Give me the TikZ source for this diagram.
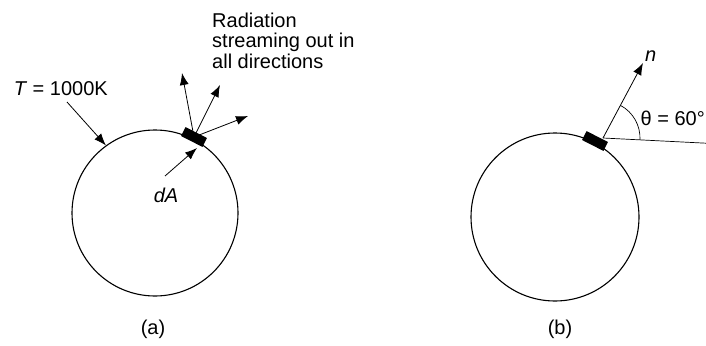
\documentclass[tikz,border=0pt]{standalone}
\usepackage{fontspec}
\setmainfont{Liberation Sans}
\usetikzlibrary{arrows.meta,calc}
\begin{document}
\begin{tikzpicture}[x=1pt,y=-1pt,
  lbl/.style={font=\fontsize{20}{20.5}\selectfont, inner sep=0pt},
  body/.style={circle, draw, line width=1.1pt, inner sep=0pt},
  patch/.style={fill=black, draw=none, minimum width=24pt, minimum height=10pt, inner sep=0pt, rotate=-27},
  ray/.style={line width=0.8pt, -{Latex[length=12pt,width=9pt]}},
  thinline/.style={line width=0.7pt},
]
\useasboundingbox (0,0) rectangle (706,345);
\clip (0,0) rectangle (706,345);

% ---------- (a) ----------
\node[body, minimum size=166pt] (ca) at (155,213) {};
\coordinate (pac) at (194,137);
\coordinate (r1) at (182,73);
\coordinate (r2) at (220,85);
\coordinate (r3) at (248,116);
\draw[ray] (pac) -- (r1);
\draw[ray] (pac) -- (r2);
\draw[ray] (pac) -- (r3);
\node[patch] (pa) at (pac) {};

\node[lbl, anchor=base east] (T) at (108,95) {\textit{T} = 1000K};
\coordinate (ts) at (67,102);
\draw[ray] (ts) -- (ca.126);

\node[lbl, anchor=north west, align=left] (rad) at (212,12.5) {Radiation\\streaming out in\\all directions};

\node[lbl] (dA) at (166,195) {\textit{dA}};
\coordinate (ds) at (165,176);
\coordinate (dt) at (197,148);
\draw[ray] (ds) -- (dt);

\node[lbl] (la) at (153,329) {(a)};

% ---------- (b) ----------
\node[body, minimum size=168pt] (cb) at (555,217) {};
\coordinate (o) at (603,138);
\coordinate (nt) at (643,63);
\coordinate (te) at (712,143.5);
\draw[ray] (o) -- (nt);
\draw[thinline] (o) -- (te);
\draw[thinline] ($(o)+(3:37)$) arc[start angle=3, end angle=-61.9, radius=37];
\node[patch] (pb) at (595,141) {};
\node[lbl, anchor=base west] (n) at (645,62) {\textit{n}};
\node[lbl, anchor=base east] (th) at (705,125) {θ = 60°};

\node[lbl] (lb) at (560,329) {(b)};
\end{tikzpicture}
\end{document}
